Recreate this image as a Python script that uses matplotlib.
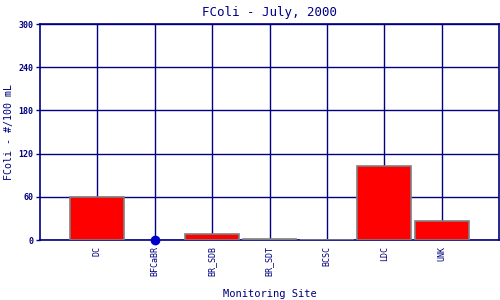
import numpy as np
import matplotlib
matplotlib.use('Agg')
import matplotlib.pyplot as plt

# monitoring sites and July 2000 fecal coliform values
sites = ['DC', 'BFCaBR', 'BR_SDB', 'BR_SDT', 'BCSC', 'LDC', 'UNK']
fcoli = [60, 0, 9, 1, 0, 103, 26]
# sites drawn as a dot instead of a bar
dot_sites = ['BFCaBR']

yticks = [0, 60, 120, 180, 240, 300]
navy = '#000080'

plt.rcParams['font.family'] = ['DejaVu Sans Mono']

fig = plt.figure(figsize=(5, 3), dpi=100)
ax = fig.add_axes([0.08, 0.2, 0.918, 0.72])

x = np.arange(1, len(sites) + 1)
for xi, name, val in zip(x, sites, fcoli):
    if name in dot_sites:
        ax.plot(xi, val, 'o', color='#0000cc', markersize=6, zorder=5, clip_on=False)
    else:
        ax.bar(xi, val, width=0.94, color='red', edgecolor='gray', linewidth=1.2, zorder=3)

ax.set_xlim(0, 8)
ax.set_ylim(0, 300)
ax.set_xticks(x)
ax.set_xticklabels(sites, rotation=90, fontsize=6, color=navy)
ax.set_yticks(yticks)
ax.set_yticklabels([str(v) for v in yticks], fontsize=6, color=navy, fontweight='bold')
ax.tick_params(axis='x', length=0, pad=4)
ax.tick_params(axis='y', length=3, color=navy, width=1, pad=2)

ax.grid(True, color=navy, linewidth=1, zorder=0)
ax.set_axisbelow(True)
for sp in ax.spines.values():
    sp.set_color(navy)
    sp.set_linewidth(1.2)

ax.set_title('FColi - July, 2000', fontsize=9, color=navy, pad=6)
ax.set_xlabel('Monitoring Site', fontsize=7.5, color=navy, labelpad=10)
ax.set_ylabel('FColi - #/100 mL', fontsize=7.2, color=navy, labelpad=3)

fig.savefig('out.png', dpi=100)
